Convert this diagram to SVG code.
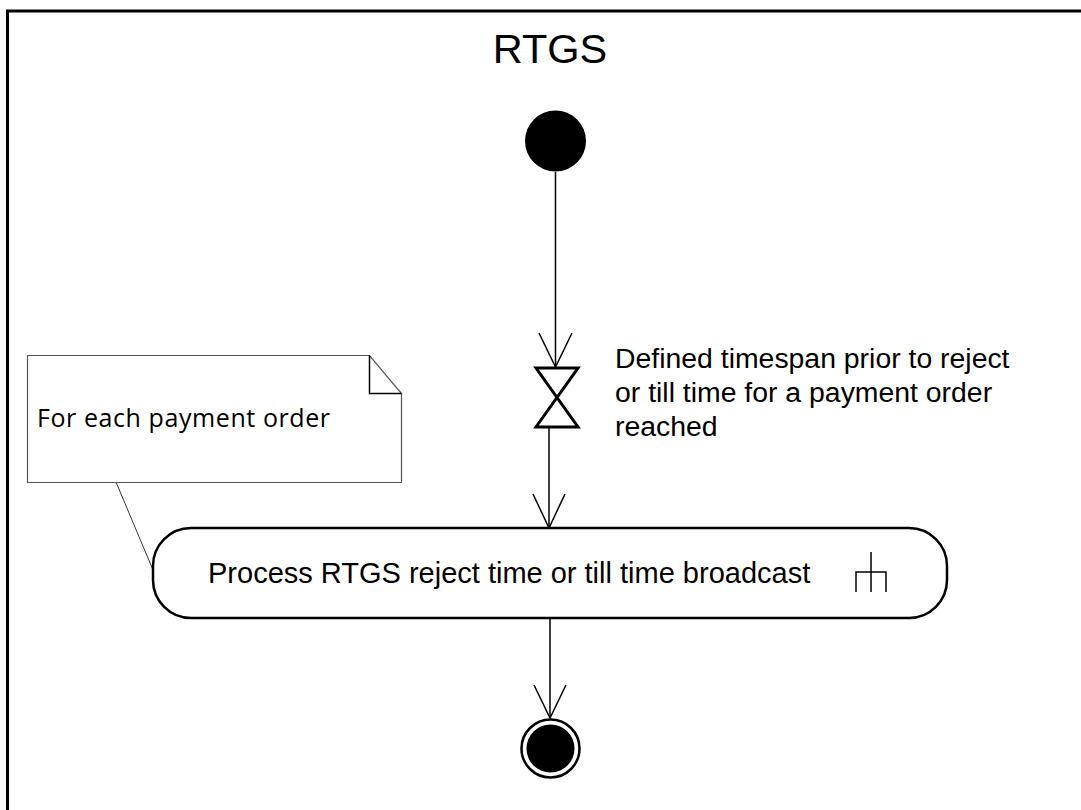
<svg xmlns="http://www.w3.org/2000/svg" width="1081" height="810" viewBox="0 0 1081 810">
<style>
.t{font-family:"Liberation Sans",Arial,sans-serif;fill:#000}
.edge{stroke:#000;stroke-width:1.5;fill:none}
.head{stroke:#000;stroke-width:1.5;fill:none}
</style>
<rect width="1081" height="810" fill="#fff"/>
<path d="M7.5,815 V11 H1090" fill="none" stroke="#000" stroke-width="3"/>
<text class="t" x="550" y="63" font-size="41.5" text-anchor="middle">RTGS</text>
<g id="connectors">
<line class="edge" x1="555.5" y1="172" x2="555.5" y2="367"/>
<polyline class="head" points="539,333 555.5,367 572,333"/>
<line class="edge" x1="549" y1="428" x2="549" y2="528"/>
<polyline class="head" points="533,494 549,528 565,494"/>
<line class="edge" x1="550" y1="618" x2="550" y2="718"/>
<polyline class="head" points="534,685 550,718 566,685"/>
<line x1="116" y1="482" x2="153" y2="570" stroke="#333" stroke-width="1"/>
</g>
<g id="start">
<circle cx="555.5" cy="141" r="30.5" fill="#000"/>
</g>
<g id="timeevent">
<path d="M536,368 H578 L536,427 H578 Z" fill="#fff" stroke="#000" stroke-width="3" stroke-linejoin="miter"/>
</g>
<g id="timeevent-label">
<text class="t" font-size="28.4" x="615" y="368">Defined timespan prior to reject</text>
<text class="t" font-size="28.4" x="615" y="402">or till time for a payment order</text>
<text class="t" font-size="28.4" x="615" y="436">reached</text>
</g>
<g id="note">
<path d="M27.5,355.5 H369.5 L401.5,393.5 V482.5 H27.5 Z" fill="#fff" stroke="#555" stroke-width="1.2"/>
<path d="M369.5,355.5 V393.5 H401.5" fill="none" stroke="#000" stroke-width="1.5"/>
<text x="37" y="427" font-family="'Open Sans','Liberation Sans',sans-serif" font-size="25" textLength="293">For each payment order</text>
</g>
<g id="process">
<rect x="153" y="528" width="794" height="90" rx="38" ry="38" fill="#fff" stroke="#000" stroke-width="2.5"/>
<text class="t" x="208" y="583" font-size="29">Process RTGS reject time or till time broadcast</text>
<path d="M871,552 V592 M856,592 V572 H886 V592" fill="none" stroke="#000" stroke-width="1.5"/>
</g>
<g id="end">
<circle cx="550.5" cy="748.5" r="29" fill="#fff" stroke="#000" stroke-width="2.5"/>
<circle cx="550.5" cy="748.5" r="24" fill="#000"/>
</g>
</svg>
